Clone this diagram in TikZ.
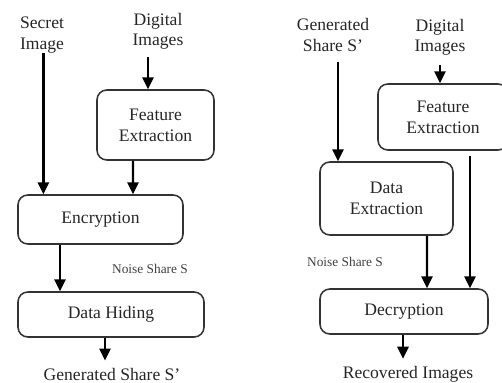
\documentclass[tikz,border=0pt]{standalone}
\usepackage{fontspec}
\setmainfont{Liberation Serif}
\usetikzlibrary{arrows.meta}
\tikzset{
  blk/.style={draw=black!80,line width=1.1pt,rounded corners=7pt,align=center,
    inner sep=0pt,font=\fontsize{12.5}{15}\selectfont,text=black!85},
  lbl/.style={align=center,inner sep=0pt,font=\fontsize{12.5}{14.5}\selectfont,text=black!85},
  note/.style={inner sep=0pt,font=\fontsize{9.5}{11}\selectfont,text=black!75},
  arr/.style={line width=1.6pt,-{Triangle[width=8pt,length=8.5pt]}}
}
\begin{document}
\begin{tikzpicture}[x=0.025cm,y=-0.025cm]
\useasboundingbox (0,0) rectangle (502,383);
% encryption side
\node[lbl] (secret) at (42,35) {Secret\\Image};
\node[lbl] (digl) at (158,31) {Digital\\Images};
\node[blk,minimum width=117*0.025cm,minimum height=70*0.025cm] (featl) at (155.5,125) {Feature\\Extraction};
\node[blk,minimum width=165*0.025cm,minimum height=49*0.025cm] (encr) at (100.5,219.5) {Encryption};
\node[blk,minimum width=186*0.025cm,minimum height=45*0.025cm] (hide) at (111,314.5) {Data Hiding};
\node[note] (noisel) at (150,269) {Noise Share S};
\node[lbl] (genl) at (112,374) {Generated Share S'};
\draw[arr] ([xshift=1]secret.south) -- ([xshift=1]secret.south |- encr.north);
\draw[arr] ([xshift=-10*0.025cm,yshift=-5]digl.south) -- ([xshift=-7.5*0.025cm]featl.north);
\draw[arr] ([xshift=-22.5*0.025cm]featl.south) -- ([xshift=32.5*0.025cm]encr.north);
\draw[arr] ([xshift=-40.5*0.025cm]encr.south) -- ([xshift=-51*0.025cm]hide.north);
\draw[arr] ([xshift=-6*0.025cm]hide.south) -- ([xshift=-7*0.025cm,yshift=5]genl.north);
% decryption side
\node[lbl] (genr) at (333,35) {Generated\\Share S'};
\node[lbl] (digr) at (440,37) {Digital\\Images};
\node[blk,minimum width=130*0.025cm,minimum height=66*0.025cm] (featr) at (443,117) {Feature\\Extraction};
\node[blk,minimum width=133*0.025cm,minimum height=73*0.025cm] (dext) at (386.5,198.5) {Data\\Extraction};
\node[blk,minimum width=168*0.025cm,minimum height=45*0.025cm] (decr) at (404,311.5) {Decryption};
\node[note] (noiser) at (345,262) {Noise Share S};
\node[lbl] (recov) at (408,374) {Recovered Images};
\draw[arr] ([xshift=5*0.025cm,yshift=-7]genr.south) -- ([xshift=-48.5*0.025cm]dext.north);
\draw[arr] ([yshift=-7]digr.south) -- ([xshift=-3*0.025cm]featr.north);
\draw[arr] ([xshift=27*0.025cm,yshift=-4]featr.south) -- ([xshift=66*0.025cm]decr.north);
\draw[arr] ([xshift=40.5*0.025cm]dext.south) -- ([xshift=23*0.025cm]decr.north);
\draw[arr] ([xshift=-1*0.025cm]decr.south) -- ([xshift=-5*0.025cm,yshift=5]recov.north);
\end{tikzpicture}
\end{document}
